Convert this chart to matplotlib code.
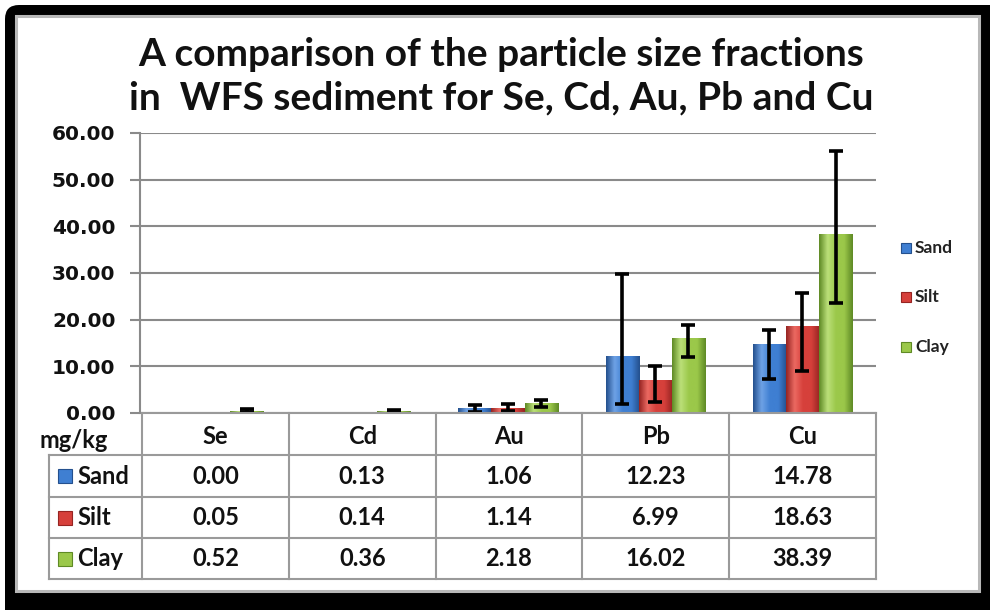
import numpy as np
import matplotlib
matplotlib.use("Agg")
import matplotlib.pyplot as plt
from matplotlib.patches import FancyBboxPatch, Rectangle
from matplotlib.colors import LinearSegmentedColormap

# ---- data ----
categories = ["Se", "Cd", "Au", "Pb", "Cu"]
series = ["Sand", "Silt", "Clay"]
sand = [0.00, 0.13, 1.06, 12.23, 14.78]
silt = [0.05, 0.14, 1.14, 6.99, 18.63]
clay = [0.52, 0.36, 2.18, 16.02, 38.39]
# error bars (lower, upper)
sand_err_lo = [0.0, 0.0, 0.75, 10.3, 7.4]
sand_err_hi = [0.0, 0.0, 0.75, 17.6, 3.0]
silt_err_lo = [0.0, 0.0, 0.75, 4.6, 9.6]
silt_err_hi = [0.0, 0.0, 0.75, 3.1, 7.0]
clay_err_lo = [0.25, 0.2, 0.9, 4.1, 14.8]
clay_err_hi = [0.25, 0.2, 0.5, 2.9, 17.8]
yticks = [0, 10, 20, 30, 40, 50, 60]
unit_label = "mg/kg"
title = "A comparison of the particle size fractions\nin  WFS sediment for Se, Cd, Au, Pb and Cu"

colors_mid = ["#3f7fd2", "#d6403b", "#9bc84a"]
colors_dark = ["#24508e", "#962422", "#5f8a25"]
colors_light = ["#6fa3e6", "#ec6a62", "#bce07a"]

W, H = 990, 610
fig = plt.figure(figsize=(W / 100, H / 100), dpi=100)
fig.patch.set_facecolor("white")

def px(x0, y0, x1, y1):
    return [x0 / W, 1 - y1 / H, (x1 - x0) / W, (y1 - y0) / H]

# frame
bg = fig.add_axes([0, 0, 1, 1], zorder=-10)
bg.set_xlim(0, W); bg.set_ylim(H, 0); bg.axis("off")
bg.add_patch(FancyBboxPatch((5, 5), W + 40, H + 40, boxstyle="round,pad=0,rounding_size=14",
                            fc="black", ec="none"))
bg.add_patch(Rectangle((16, 16), 963, 575, fc="white", ec="#b8b8b8", lw=2.2))

FONT = "Lato"
fig.text(501 / W, 1 - 76 / H, title, ha="center", va="center", fontsize=28,
         family=FONT, fontweight="bold", linespacing=1.28, color="#111111")

ax = fig.add_axes(px(140, 133, 876, 413))
ax.set_xlim(0, 5)
ax.set_ylim(0, 60)
for s in ["top", "right", "bottom"]:
    ax.spines[s].set_visible(False)
ax.spines["left"].set_color("#8a8a8a")
ax.spines["left"].set_linewidth(1.5)
ax.set_yticks(yticks)
ax.set_yticklabels([f"{v:.2f}" for v in yticks], fontsize=14.5, fontweight="bold",
                   family="DejaVu Sans", color="#111111")
ax.tick_params(axis="y", length=7.2, width=1.5, color="#8a8a8a", pad=10.5)
ax.set_xticks([])
for v in yticks:
    ax.axhline(v, color="#8a8a8a", lw=1.5, zorder=0)

x = np.arange(len(categories)) + 0.5
bw = 0.225
vals = [sand, silt, clay]
errs = [(sand_err_lo, sand_err_hi), (silt_err_lo, silt_err_hi), (clay_err_lo, clay_err_hi)]
for k in range(3):
    xs = x + (k - 1) * bw
    bars = ax.bar(xs, vals[k], width=bw, color=colors_mid[k], edgecolor=colors_dark[k],
                  lw=0.6, zorder=2)
    cmap = LinearSegmentedColormap.from_list(
        "g", [colors_dark[k], colors_light[k], colors_mid[k], colors_mid[k], colors_dark[k]])
    grad = np.linspace(0, 1, 64).reshape(1, -1)
    for b in bars:
        if b.get_height() <= 0:
            continue
        im = ax.imshow(grad, cmap=cmap, aspect="auto", zorder=2.5,
                       extent=(b.get_x(), b.get_x() + b.get_width(), 0, b.get_height()),
                       interpolation="bicubic")
        im.set_clip_path(b)
    lo, hi = errs[k]
    m = np.array(lo) + np.array(hi) > 0
    ax.errorbar(xs[m], np.array(vals[k])[m], yerr=[np.array(lo)[m], np.array(hi)[m]],
                fmt="none", ecolor="black", elinewidth=2.6, capsize=5, capthick=2.6, zorder=4)
ax.set_xlim(0, 5)
ax.set_ylim(0, 60)

# ---- data table below ----
tb = fig.add_axes([0, 0, 1, 1], zorder=5)
tb.set_xlim(0, W); tb.set_ylim(H, 0); tb.axis("off")
gc = "#9a9a9a"
col_edges = [142 + i * (876 - 142) / 5 for i in range(6)]
row_edges = [413, 455, 497, 538, 579]
tb.plot([142, 876], [413, 413], color=gc, lw=1.5)
for yv in row_edges[1:]:
    tb.plot([49, 876], [yv, yv], color=gc, lw=1.5)
for xv in col_edges:
    tb.plot([xv, xv], [413, 579], color=gc, lw=1.5)
tb.plot([49, 49], [455, 579], color=gc, lw=1.5)
tfs = 17
for i, c in enumerate(categories):
    cx = (col_edges[i] + col_edges[i + 1]) / 2
    tb.text(cx, 436, c, ha="center", va="center", fontsize=tfs, fontweight="bold",
            family=FONT, color="#111111")
    for r in range(3):
        cy = (row_edges[r + 1] + row_edges[r + 2]) / 2
        tb.text(cx, cy, f"{vals[r][i]:.2f}", ha="center", va="center", fontsize=tfs,
                fontweight="bold", family=FONT, color="#111111")
for r in range(3):
    cy = (row_edges[r + 1] + row_edges[r + 2]) / 2
    tb.add_patch(Rectangle((58, cy - 7), 14, 14, fc=colors_mid[r], ec=colors_dark[r], lw=0.8))
    tb.text(77, cy, series[r], ha="left", va="center", fontsize=tfs, fontweight="bold",
            family=FONT, color="#111111")
tb.text(74, 441, unit_label, ha="center", va="center", fontsize=tfs, fontweight="bold",
        family=FONT, color="#111111")

# legend on right
for r in range(3):
    ly = [248, 297, 347][r]
    tb.add_patch(Rectangle((901, ly - 5), 10, 10, fc=colors_mid[r], ec=colors_dark[r], lw=0.8))
    tb.text(915, ly, series[r], ha="left", va="center", fontsize=12.5, fontweight="bold",
            family=FONT, color="#222222")

fig.savefig("out.png", dpi=100, facecolor=fig.get_facecolor())
